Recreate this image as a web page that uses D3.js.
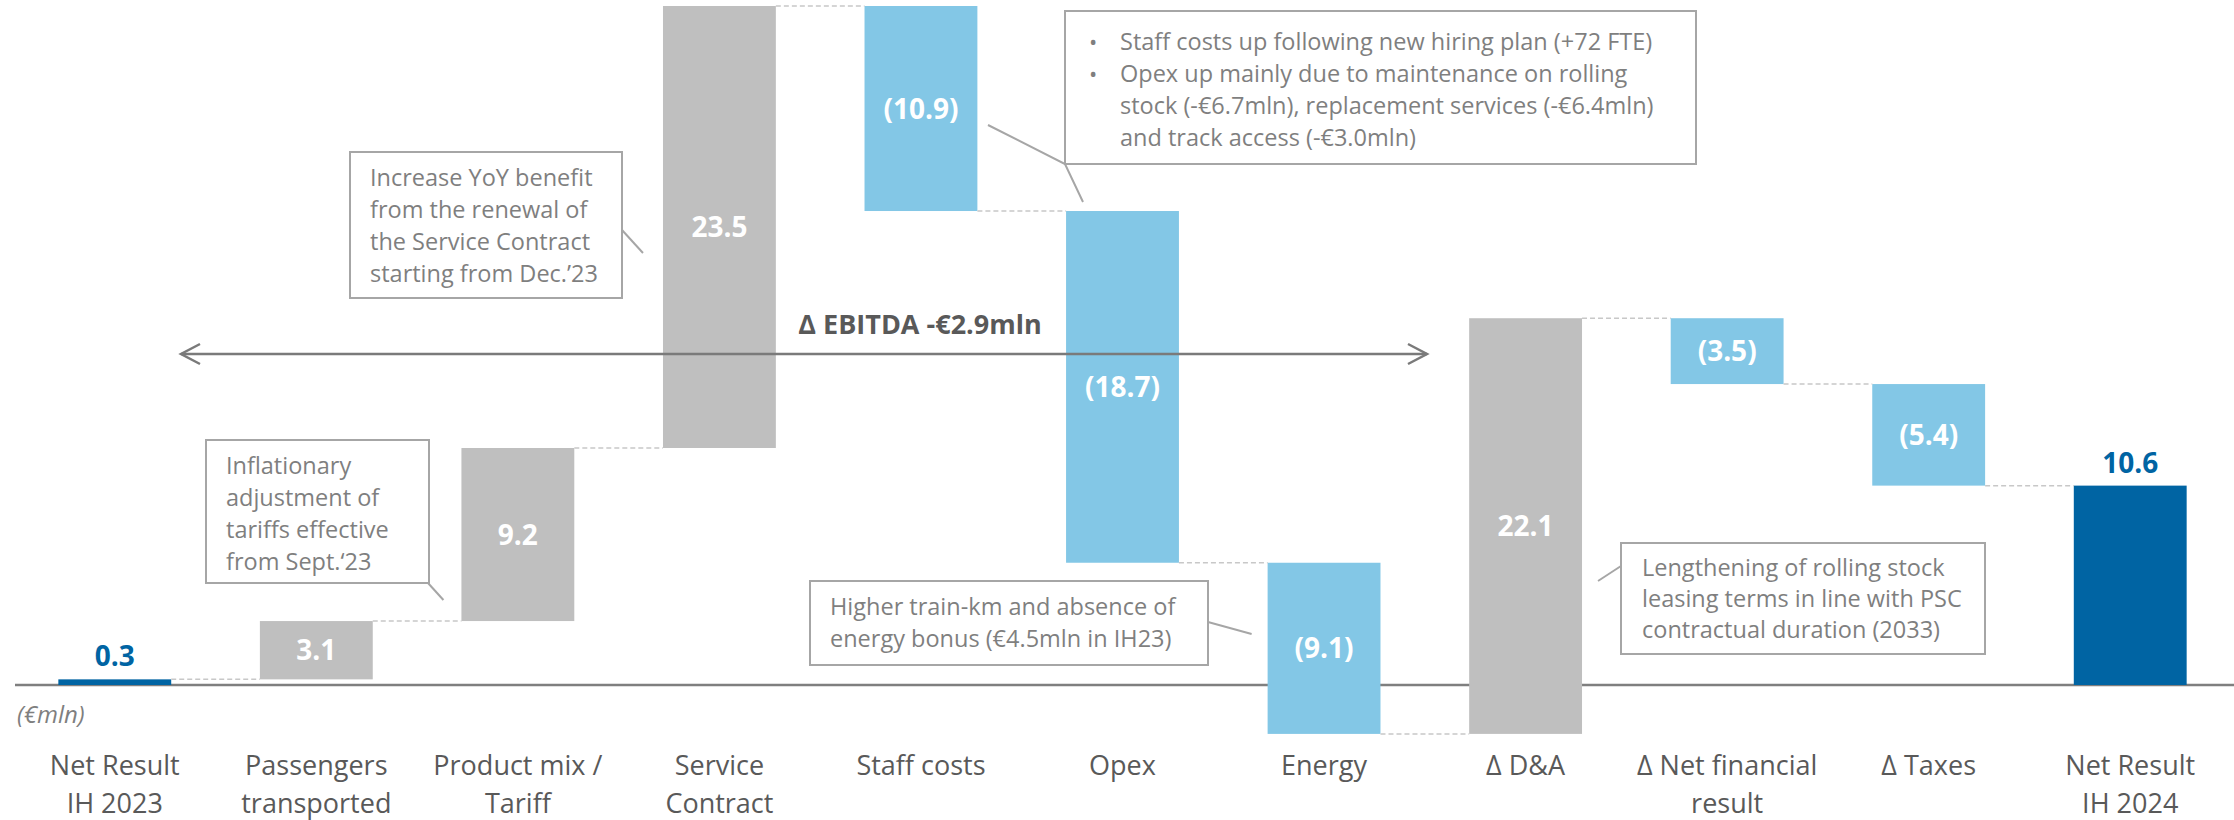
<!DOCTYPE html>
<html>
<head>
<meta charset="utf-8">
<script src="https://cdn.jsdelivr.net/npm/d3@7"></script>
<style>
  html, body { margin: 0; padding: 0; background: #fff; }
  svg { display: block; font-family: "Open Sans", "Noto Sans", sans-serif; }
</style>
</head>
<body>
<svg id="chart" width="2234" height="820"></svg>
<script>
// Bridge steps: net result H1 2023 -> net result H1 2024 (€ mln)
const categories = [
  ["Net Result", "IH 2023"],
  ["Passengers", "transported"],
  ["Product mix /", "Tariff"],
  ["Service", "Contract"],
  ["Staff costs"],
  ["Opex"],
  ["Energy"],
  ["Δ D&A"],
  ["Δ Net financial", "result"],
  ["Δ Taxes"],
  ["Net Result", "IH 2024"]
];
const values = [0.3, 3.1, 9.2, 23.5, -10.9, -18.7, -9.1, 22.1, -3.5, -5.4, 10.6];
const kinds  = ["total", "step", "step", "step", "step", "step", "step", "step", "step", "step", "total"];

const unitLabel = "(€mln)";
const ebitdaLabel = "Δ EBITDA -€2.9mln";

const notes = {
  service: ["Increase YoY benefit", "from the renewal of", "the Service Contract", "starting from Dec.’23"],
  tariff: ["Inflationary", "adjustment of", "tariffs effective", "from Sept.‘23"],
  staff: [
    { bullet: true,  text: "Staff costs up following new hiring plan (+72 FTE)" },
    { bullet: true,  text: "Opex up mainly due to maintenance on rolling" },
    { bullet: false, text: "stock (-€6.7mln), replacement services (-€6.4mln)" },
    { bullet: false, text: "and track access (-€3.0mln)" }
  ],
  energy: ["Higher train-km and absence of", "energy bonus (€4.5mln in IH23)"],
  leasing: ["Lengthening of rolling stock", "leasing terms in line with PSC", "contractual duration (2033)"]
};

// Waterfall geometry: start / end of every step
let running = 0;
const steps = values.map((v, i) => {
  let start, end;
  if (kinds[i] === "total") { start = 0; end = v; running = v; }
  else { start = running; end = running + v; running = end; }
  return { i, key: categories[i].join(" "), value: v, kind: kinds[i], start, end };
});

const colors = { total: "#0064A3", up: "#BFBFBF", down: "#83C7E6" };
const colorOf = d => d.kind === "total" ? colors.total : (d.value >= 0 ? colors.up : colors.down);
const fmt = d => d.value < 0 ? `(${Math.abs(d.value).toFixed(1)})` : d.value.toFixed(1);

const svg = d3.select("#chart");

const x = d3.scaleBand()
  .domain(steps.map(d => d.key))
  .range([14, 2231])
  .paddingInner(0.44)
  .paddingOuter(0.22);

const yMax = d3.max(steps, d => Math.max(d.start, d.end));
const y = d3.scaleLinear().domain([0, yMax]).range([685, 6]);

// Baseline
svg.append("line")
  .attr("x1", 15).attr("x2", 2234)
  .attr("y1", y(0)).attr("y2", y(0))
  .attr("stroke", "#7F7F7F").attr("stroke-width", 2.5);

// Bars
svg.append("g").selectAll("rect")
  .data(steps)
  .join("rect")
  .attr("x", d => x(d.key))
  .attr("width", x.bandwidth())
  .attr("y", d => y(Math.max(d.start, d.end)))
  .attr("height", d => Math.abs(y(d.start) - y(d.end)))
  .attr("fill", colorOf);

// Dashed connectors between consecutive bars
svg.append("g").selectAll("line")
  .data(steps.slice(0, -1))
  .join("line")
  .attr("x1", d => x(d.key) + x.bandwidth())
  .attr("x2", d => x(steps[d.i + 1].key))
  .attr("y1", d => y(d.end)).attr("y2", d => y(d.end))
  .attr("stroke", "#C8C8C8").attr("stroke-width", 1.5)
  .attr("stroke-dasharray", "5,3");

// Value labels
svg.append("g").selectAll("text")
  .data(steps)
  .join("text")
  .attr("x", d => x(d.key) + x.bandwidth() / 2)
  .attr("y", d => d.kind === "total"
      ? y(d.end) - 13
      : (y(d.start) + y(d.end)) / 2)
  .attr("dy", d => d.kind === "total" ? 0 : "0.36em")
  .attr("text-anchor", "middle")
  .attr("font-size", 28)
  .attr("font-weight", 700)
  .attr("fill", d => d.kind === "total" ? colors.total : "#FFFFFF")
  .text(fmt);

// Category labels
const catG = svg.append("g").selectAll("text")
  .data(steps)
  .join("text")
  .attr("x", d => x(d.key) + x.bandwidth() / 2)
  .attr("y", 775)
  .attr("text-anchor", "middle")
  .attr("font-size", 27)
  .attr("fill", "#595959");
catG.selectAll("tspan")
  .data(d => categories[d.i].map(t => ({ t, cx: x(d.key) + x.bandwidth() / 2 })))
  .join("tspan")
  .attr("x", t => t.cx)
  .attr("dy", (t, j) => j === 0 ? 0 : 38)
  .text(t => t.t);

// Unit label
svg.append("text")
  .attr("x", 17).attr("y", 723)
  .attr("font-size", 24).attr("font-style", "italic")
  .attr("fill", "#7F7F7F")
  .text(unitLabel);

// EBITDA span arrow
const arrowY = 354, ax1 = 181, ax2 = 1427;
const arrowG = svg.append("g").attr("stroke", "#7A7A7A").attr("stroke-width", 2.5).attr("fill", "none");
arrowG.append("line").attr("x1", ax1).attr("x2", ax2).attr("y1", arrowY).attr("y2", arrowY);
arrowG.append("path").attr("d", `M${ax1 + 19},${arrowY - 10} L${ax1},${arrowY} L${ax1 + 19},${arrowY + 10}`);
arrowG.append("path").attr("d", `M${ax2 - 19},${arrowY - 10} L${ax2},${arrowY} L${ax2 - 19},${arrowY + 10}`);
svg.append("text")
  .attr("x", 920).attr("y", 334)
  .attr("text-anchor", "middle")
  .attr("font-size", 27).attr("font-weight", 700)
  .attr("fill", "#595959")
  .text(ebitdaLabel);

// Callout boxes
const noteG = svg.append("g");
function callout(box, lines, textX, firstBaseline, lineGap, pointer) {
  noteG.append("polyline")
    .attr("points", pointer.map(p => p.join(",")).join(" "))
    .attr("fill", "none").attr("stroke", "#A6A6A6").attr("stroke-width", 2);
  noteG.append("rect")
    .attr("x", box[0]).attr("y", box[1]).attr("width", box[2]).attr("height", box[3])
    .attr("fill", "#FFFFFF").attr("stroke", "#A6A6A6").attr("stroke-width", 2);
  lines.forEach((ln, k) => {
    const item = typeof ln === "string" ? { bullet: false, text: ln } : ln;
    const by = firstBaseline + k * lineGap;
    if (item.bullet) {
      noteG.append("text").attr("x", textX - 31).attr("y", by)
        .attr("font-size", 22).attr("fill", "#7F7F7F").text("•");
    }
    noteG.append("text").attr("x", textX).attr("y", by)
      .attr("font-size", 23.5).attr("fill", "#7F7F7F").text(item.text);
  });
}

const xs = k => x(steps[k].key);

callout([350, 152, 272, 146], notes.service, 370, 186, 32,
  [[622, 230], [xs(3) - 20, 253]]);
callout([206, 440, 223, 143], notes.tariff, 226, 474, 32,
  [[428, 583], [xs(2) - 18, 600]]);
callout([1065, 11, 631, 153], notes.staff, 1120, 50, 32,
  [[988, 125], [1065, 164], [1083, 202]]);
callout([810, 581, 398, 84], notes.energy, 830, 615, 32,
  [[1208, 622], [xs(6) - 16, 634]]);
callout([1621, 543, 364, 111], notes.leasing, 1642, 576, 31,
  [[xs(7) + x.bandwidth() + 16, 581], [1621, 566]]);
</script>
</body>
</html>
